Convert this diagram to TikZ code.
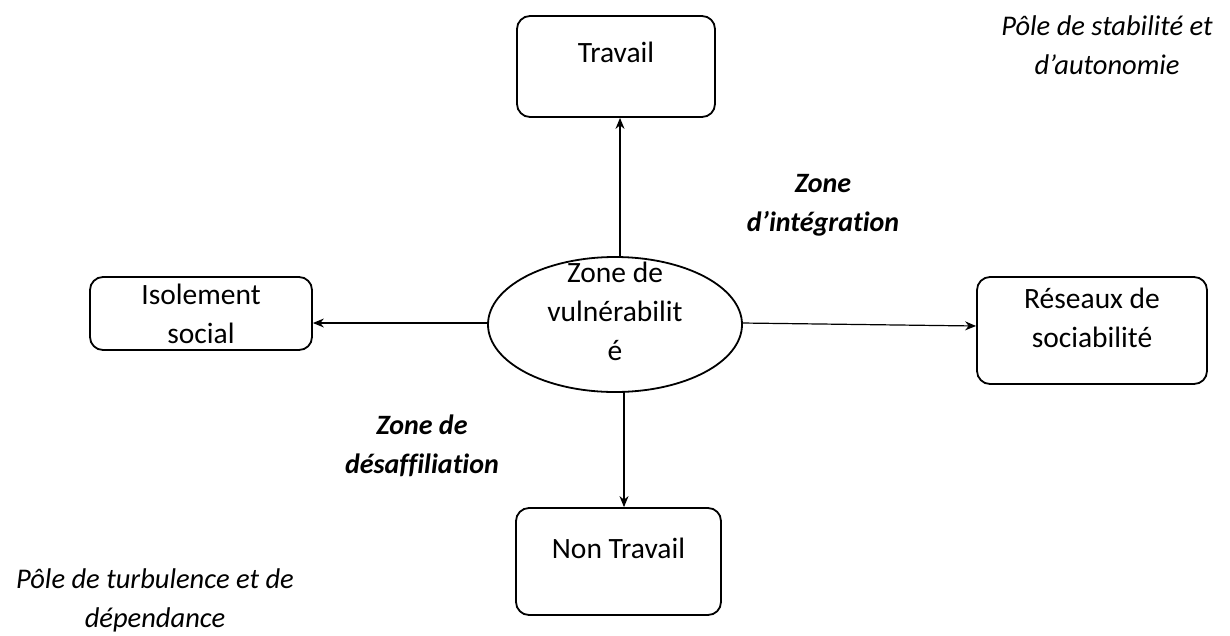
\documentclass[tikz,border=0pt]{standalone}
\usepackage{fontspec}
\setmainfont{Carlito}[Ligatures=CommonOff]
\usetikzlibrary{arrows.meta,shapes.geometric}
\tikzset{
  box/.style={draw, line width=1.8pt, rounded corners=13pt, inner sep=0pt},
  txt/.style={inner sep=0pt, align=center, font=\fontsize{29.5}{39}\selectfont},
  zone/.style={inner sep=0pt, align=center, font=\fontsize{28}{39}\selectfont\bfseries\itshape},
  pole/.style={inner sep=0pt, align=center, font=\fontsize{28.5}{39}\selectfont\itshape},
  arr/.style={line width=1.2pt, -{Stealth[length=11pt,width=9pt]}}
}
\begin{document}
\begin{tikzpicture}[x=1pt,y=-1pt]
\useasboundingbox (0,0) rectangle (1230,635);
% boxes
\node[box, minimum width=198pt, minimum height=101pt] (trav) at (616,66.5) {};
\node[txt] (travt) at (616,52) {Travail};
\node[box, minimum width=222pt, minimum height=73pt] (iso) at (201,313.5) {};
\node[txt] (isot) at (201,314) {Isolement\\social};
\node[box, minimum width=230pt, minimum height=107pt] (res) at (1092,330.5) {};
\node[txt] (rest) at (1092,318) {Réseaux de\\sociabilité};
\node[box, minimum width=205pt, minimum height=107pt] (non) at (618.5,561.5) {};
\node[txt] (nont) at (618.5,548) {Non Travail};
% ellipse
\node[draw, line width=1.8pt, ellipse, minimum width=254pt, minimum height=135pt, inner sep=0pt] (ell) at (615,324.5) {};
\node[txt] (ellt) at (615,311) {Zone de\\vulnérabilit\\é};
% arrows
\coordinate (et) at (620,258);
\coordinate (eb) at (624,391);
\coordinate (el) at (488,323);
\coordinate (er) at (742,323);
\draw[arr] (et) -- (et |- trav.south);
\draw[arr] (eb) -- (eb |- non.north);
\draw[arr] (el) -- (el -| iso.east);
\draw[arr] (er) -- ([yshift=4.5pt]res.west);
% zone labels
\node[zone] (zi) at (823,205) {Zone\\d’intégration};
\node[zone] (zd) at (422,446) {Zone de\\désaffiliation};
% pole labels
\node[pole] (ps) at (1107,45) {Pôle de stabilité et\\d’autonomie};
\node[pole] (pt) at (155,600) {Pôle de turbulence et de\\dépendance};
\end{tikzpicture}
\end{document}
